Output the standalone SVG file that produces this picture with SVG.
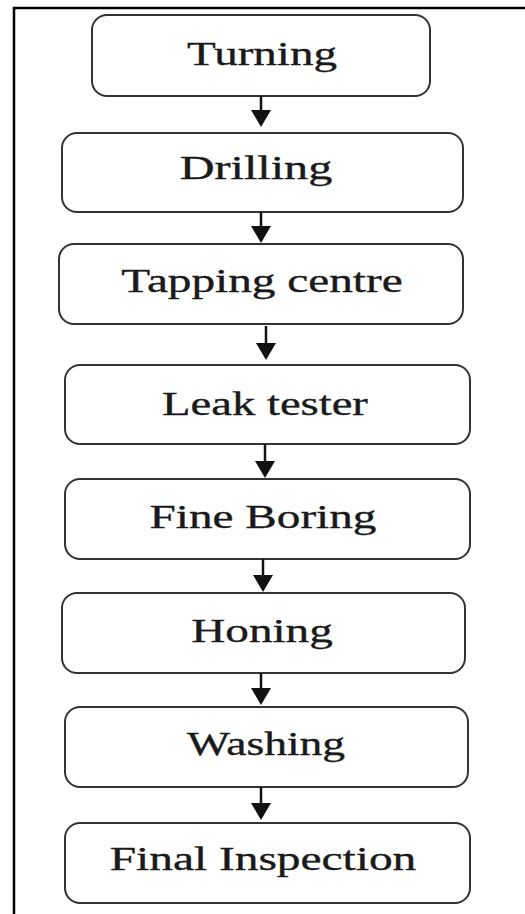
<svg xmlns="http://www.w3.org/2000/svg" width="525" height="914" viewBox="0 0 525 914">
<style>
.box{fill:#fff;stroke:#333;stroke-width:2}
.lbl{font-family:"Liberation Serif","Times New Roman",serif;font-size:33px;fill:#1a1a1a;stroke:#1a1a1a;stroke-width:0.35;text-anchor:middle}
.stem{stroke:#111;stroke-width:2.5;fill:none}
.head{fill:#111}
</style>
<rect width="525" height="914" fill="#fff"/>
<g id="frame" stroke="#000" stroke-width="2.5" fill="none">
<line x1="13" y1="8" x2="525" y2="8"/>
<line x1="14" y1="7" x2="14" y2="914"/>
</g>
<g id="n1"><rect class="box" x="92" y="15" width="338" height="81" rx="15"/><text class="lbl" transform="translate(262,65) scale(1.4,1)" textLength="107" lengthAdjust="spacingAndGlyphs">Turning</text></g>
<g id="n2"><rect class="box" x="62" y="133" width="401" height="79" rx="15"/><text class="lbl" transform="translate(256,179) scale(1.4,1)" textLength="109" lengthAdjust="spacingAndGlyphs">Drilling</text></g>
<g id="n3"><rect class="box" x="59" y="244" width="404" height="80" rx="15"/><text class="lbl" transform="translate(262,292) scale(1.4,1)" textLength="201" lengthAdjust="spacingAndGlyphs">Tapping centre</text></g>
<g id="n4"><rect class="box" x="65" y="365" width="405" height="79" rx="15"/><text class="lbl" transform="translate(265,415) scale(1.4,1)" textLength="147" lengthAdjust="spacingAndGlyphs">Leak tester</text></g>
<g id="n5"><rect class="box" x="65" y="479" width="405" height="80" rx="15"/><text class="lbl" transform="translate(263,528) scale(1.4,1)" textLength="162" lengthAdjust="spacingAndGlyphs">Fine Boring</text></g>
<g id="n6"><rect class="box" x="62" y="593" width="403" height="80" rx="15"/><text class="lbl" transform="translate(262,642) scale(1.4,1)" textLength="101" lengthAdjust="spacingAndGlyphs">Honing</text></g>
<g id="n7"><rect class="box" x="65" y="707" width="403" height="80" rx="15"/><text class="lbl" transform="translate(266,755) scale(1.4,1)" textLength="113" lengthAdjust="spacingAndGlyphs">Washing</text></g>
<g id="n8"><rect class="box" x="65" y="823" width="405" height="80" rx="15"/><text class="lbl" transform="translate(263,870) scale(1.4,1)" textLength="219" lengthAdjust="spacingAndGlyphs">Final Inspection</text></g>
<g id="connectors">
<line class="stem" x1="261" y1="96" x2="261" y2="112"/><polygon class="head" points="251,110 271,110 261,127"/>
<line class="stem" x1="261" y1="212" x2="261" y2="228"/><polygon class="head" points="251,226 271,226 261,243"/>
<line class="stem" x1="266" y1="326" x2="266" y2="345"/><polygon class="head" points="256,343 276,343 266,360"/>
<line class="stem" x1="265" y1="444" x2="265" y2="463"/><polygon class="head" points="255,461 275,461 265,478"/>
<line class="stem" x1="263" y1="559" x2="263" y2="577"/><polygon class="head" points="253,575 273,575 263,592"/>
<line class="stem" x1="261" y1="673" x2="261" y2="690"/><polygon class="head" points="251,688 271,688 261,705"/>
<line class="stem" x1="261" y1="787" x2="261" y2="805"/><polygon class="head" points="251,803 271,803 261,820"/>
</g>
</svg>
